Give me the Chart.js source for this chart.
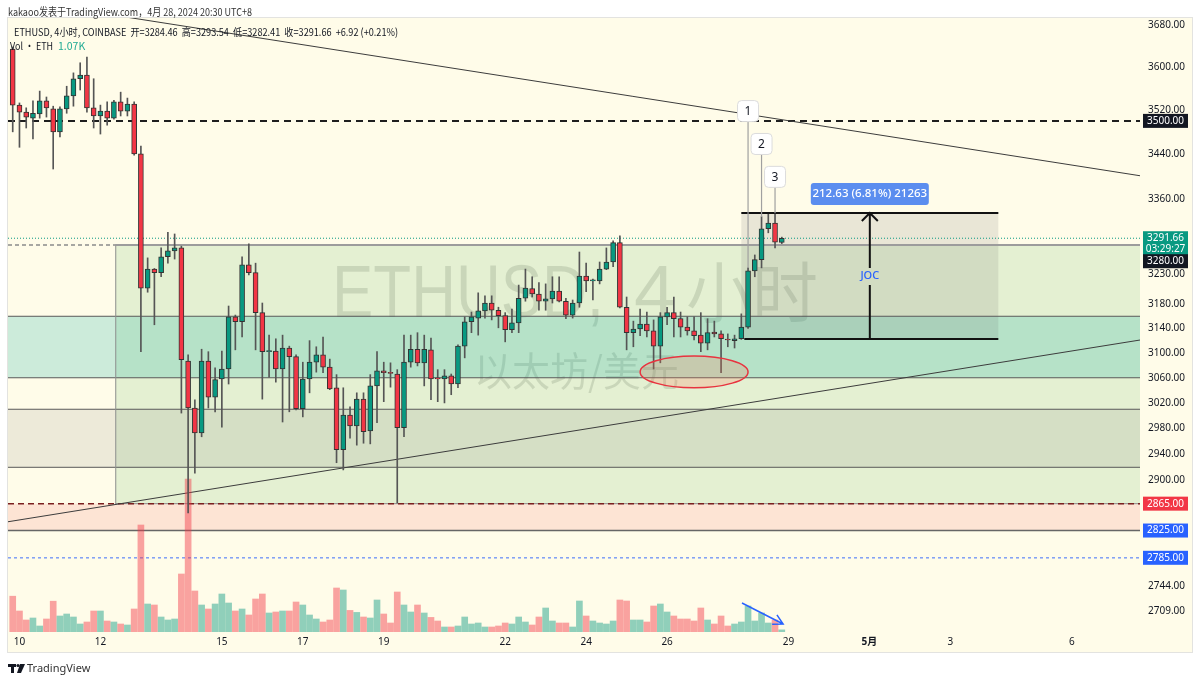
<!DOCTYPE html>
<html>
<head>
<meta charset="utf-8">
<title>ETHUSD 4小时</title>
<script src="https://cdn.jsdelivr.net/npm/chart.js@4.4.1/dist/chart.umd.min.js"></script>
<style>
  html, body { margin: 0; padding: 0; background: #ffffff; }
  #wrap { width: 1200px; height: 681px; }
</style>
</head>
<body>
<div id="wrap"><canvas id="chartEth" width="1200" height="681"></canvas></div>
<script>
// ETHUSD 4h candles (Coinbase), from 9 Apr 20:00 to 28 Apr 20:00 (UTC+8)
const openP = [3634,3529,3516,3505,3513,3537,3522,3480,3522,3546, 3578,3585,3524,3509,3518,3505,3535,3518,3531,3440,
  3207,3239,3233,3260,3270,3275,3087,3012,2973,3087, 3029,3058,3074,3159,3151,3246,3233,3166,3102,3103,
  3074,3108,3094,3011,3058,3085,3097,3077,3044,2947, 3001,2984,3026,2976,3047,3071,3068,3066,2981,3085,
  3106,3084,3105,3060,3058,3063,3050,3111,3151,3157, 3169,3182,3170,3161,3138,3149,3190,3206,3197,3185,
  3189,3202,3185,3162,3182,3227,3219,3219,3239,3251, 3284,3175,3133,3139,3147,3136,3111,3159,3166,3156,
  3142,3136,3129,3116,3134,3131,3122,3120,3123,3142, 3236,3255,3308,3318,3284.46];
const highP = [3638,3533,3524,3537,3555,3544,3527,3526,3564,3589, 3608,3619,3578,3529,3535,3538,3553,3542,3535,3454,
  3258,3240,3275,3302,3299,3278,3097,3025,3106,3102, 3076,3103,3177,3162,3260,3282,3249,3182,3129,3123,
  3129,3111,3097,3085,3120,3110,3126,3090,3065,3044, 3014,3036,3036,3065,3102,3085,3084,3073,3129,3129,
  3133,3129,3124,3073,3073,3066,3113,3159,3167,3199, 3194,3194,3175,3166,3172,3212,3239,3226,3216,3214,
  3226,3226,3190,3187,3268,3249,3222,3251,3275,3287, 3296,3192,3152,3172,3167,3154,3166,3175,3192,3167,
  3159,3159,3166,3156,3152,3136,3131,3129,3164,3241, 3263,3329,3335,3335,3293.54];
const lowP = [3480,3452,3487,3467,3505,3507,3413,3471,3514,3527, 3557,3516,3487,3476,3492,3503,3509,3509,3438,3102,
  3200,3146,3226,3249,3256,3004,2851,2911,2967,3012, 3006,2982,3050,3105,3126,3229,3105,3026,3061,3053,
  2990,3006,3009,2998,3036,3069,3068,3041,2927,2916, 2965,2954,2957,2956,2989,3022,3045,2866,2967,3077,
  3079,3047,3025,3022,3020,3033,3044,3092,3133,3129, 3157,3154,3141,3118,3133,3133,3185,3192,3170,3170,
  3182,3184,3156,3157,3175,3201,3187,3214,3238,3243, 3174,3105,3110,3128,3126,3074,3084,3146,3126,3126,
  3129,3121,3102,3105,3126,3068,3110,3108,3122,3140, 3226,3241,3301,3275,3282.41];
const closeP = [3529,3516,3507,3514,3537,3524,3480,3522,3546,3578, 3585,3524,3509,3518,3505,3535,3518,3531,3440,3207,
  3239,3233,3260,3270,3275,3089,3012,2973,3087,3029, 3057,3074,3159,3151,3246,3233,3166,3102,3103,3074,
  3108,3094,3011,3058,3085,3097,3077,3042,2947,3001, 2984,3026,2975,3047,3071,3068,3067,2981,3085,3106,
  3084,3106,3058,3058,3063,3050,3111,3151,3159,3169, 3182,3170,3161,3138,3149,3190,3207,3197,3185,3189,
  3202,3185,3162,3182,3227,3219,3221,3239,3251,3284, 3175,3133,3139,3147,3136,3111,3159,3166,3156,3142,
  3136,3128,3116,3133,3131,3123,3121,3123,3142,3236, 3255,3308,3318,3285,3291.66];
// volume, thousand ETH
const volK = [17.9,10.5,6,7,3,6.5,15.4,8,9,7.5, 4,5,10.5,10.5,5.5,5,4,3.5,11.5,53.5,
  14,13.5,7.5,6,6.5,29,76.5,20.5,13.5,11.5, 14,19,14.5,10.5,11.5,8.5,16.5,19,9.5,10,
  10.5,10.5,15,13.5,8.5,6.5,5,6,22,21, 10.8,9.8,7.5,7,16,9,4.5,20,13.5,10,
  13.5,9.5,7.3,5.5,2.5,2.5,3,7.5,4,4.5, 2.5,2.5,3,4.5,4,7.5,5,3.5,7.5,12,
  5.5,4.5,4.5,2.5,15.5,8,5.5,4.5,4,5.5, 16,15.5,6,6,5,13,14,10,8,6.5,
  6.5,5.5,12,6,4,8,3,4,5,13, 5.5,9.5,4.5,6,1.07];

// axes
const xTickIdx = [1, 13, 31, 43, 55, 73, 85, 97, 115, 127, 139, 157];
const xTickLabels = ['10', '12', '15', '17', '19', '22', '24', '26', '29', '5月', '3', '6'];
const yTickVals = [3680, 3600, 3520, 3440, 3360, 3230, 3180, 3140, 3100, 3060, 3020, 2980, 2940, 2900, 2744, 2709];

// drawings (candle index / price)
const zoneBox = [15.2, 3280, 2865];          // start index, top, bottom
const zoneLines = [3160, 3060, 3010, 2920];
const tealZone = [3160, 3060];
const grayZone = [3010, 2920];
const redZone = [2865, 2825];
const trendDown = [[20.4, 3688], [167.1, 3401]];
const trendUp = [[-0.7, 2838], [167.1, 3121]];
const jocBox = [108, 146.1, 3335.32, 3122.69];
const callouts = [[109, 3518, '1'], [111, 3458, '2'], [113, 3399, '3']];
const lowEllipse = [101, 8, 3095, 3044];     // center index, half width, top, bottom
const volArrow = [[108.1, 14.5], [114.2, 4]];

const UP = '#089981', DOWN = '#F23645';
const isUp = i => closeP[i] >= openP[i];
const paneBg = '#fffce9';
const FONT = '"Noto Sans", "Noto Sans CJK SC", sans-serif';
const CJK = '"Noto Sans CJK SC", "Noto Sans", sans-serif';

function roundRect(c, x, y, w, h, r) {
    c.beginPath();
    c.moveTo(x + r, y);
    c.arcTo(x + w, y, x + w, y + h, r);
    c.arcTo(x + w, y + h, x, y + h, r);
    c.arcTo(x, y + h, x, y, r);
    c.arcTo(x, y, x + w, y, r);
    c.closePath();
}

function hLine(c, a, y, color, width, dash) {
    c.strokeStyle = color;
    c.lineWidth = width;
    c.setLineDash(dash || []);
    c.beginPath();
    c.moveTo(a.left, y);
    c.lineTo(a.right, y);
    c.stroke();
    c.setLineDash([]);
}

const overlay = {
    id: 'overlay',
    beforeDraw(chart) {
        const c = chart.ctx;
        c.save();
        c.fillStyle = '#ffffff';
        c.fillRect(0, 0, chart.width, chart.height);
        c.fillStyle = paneBg;
        c.fillRect(8, 18, 1184, 634);
        c.strokeStyle = '#e3e3e0';
        c.lineWidth = 1;
        c.strokeRect(7.5, 17.5, 1185, 635);
        c.restore();
    },
    beforeDatasetsDraw(chart) {
        const { ctx: c, chartArea: a, scales } = chart;
        const X = v => scales.x.getPixelForValue(v);
        const Y = v => scales.y.getPixelForValue(v);
        const w = a.right - a.left;
        c.save();
        c.beginPath();
        c.rect(a.left, a.top, w, a.bottom - a.top);
        c.clip();

        // watermark
        c.fillStyle = 'rgba(0,0,0,0.12)';
        c.textBaseline = 'alphabetic';
        c.textAlign = 'left';
        c.font = '75px "Liberation Sans", ' + FONT;
        c.fillText('ETHUSD,', 332, 317, 272);
        c.fillText('4', 634, 317);
        c.font = '66px ' + CJK;
        c.fillText('小时', 686, 317, 138);
        c.font = '40px ' + CJK;
        c.fillText('以太坊/美元', 474, 386, 205);

        // zones
        const bx = X(zoneBox[0]);
        c.fillStyle = 'rgba(76,175,80,0.15)';
        c.fillRect(bx, Y(zoneBox[1]), a.right - bx, Y(zoneBox[2]) - Y(zoneBox[1]));
        c.fillStyle = 'rgba(0,170,160,0.2)';
        c.fillRect(a.left, Y(tealZone[0]), w, Y(tealZone[1]) - Y(tealZone[0]));
        c.fillStyle = 'rgba(110,110,110,0.12)';
        c.fillRect(a.left, Y(grayZone[0]), w, Y(grayZone[1]) - Y(grayZone[0]));
        c.fillStyle = 'rgba(242,54,69,0.12)';
        c.fillRect(a.left, Y(redZone[0]), w, Y(redZone[1]) - Y(redZone[0]));

        // measure box fill
        const jx1 = X(jocBox[0]), jx2 = X(jocBox[1]);
        c.fillStyle = 'rgba(110,110,110,0.15)';
        c.fillRect(jx1, Y(jocBox[2]), jx2 - jx1, Y(jocBox[3]) - Y(jocBox[2]));

        // levels
        zoneLines.forEach(p => hLine(c, a, Y(p), '#5a5a5a', 1));
        hLine(c, a, Y(redZone[1]), '#666', 1.5);
        c.strokeStyle = '#8f8f8f';
        c.lineWidth = 1;
        c.beginPath();
        c.moveTo(bx + 0.5, Y(zoneBox[1]));
        c.lineTo(bx + 0.5, Y(zoneBox[2]));
        c.moveTo(bx, Y(zoneBox[2]));
        c.lineTo(a.right, Y(zoneBox[2]));
        c.stroke();
        hLine(c, a, Y(redZone[0]), '#7a1f1f', 1.5, [6, 4]);
        hLine(c, a, Y(2785), '#7f9ef5', 1.5, [3, 3]);
        hLine(c, a, Y(zoneBox[1]), '#8a8a8a', 1.5, [4, 3]);
        c.strokeStyle = '#9c9c9c';
        c.lineWidth = 2;
        c.beginPath();
        c.moveTo(bx, Y(zoneBox[1]));
        c.lineTo(a.right, Y(zoneBox[1]));
        c.stroke();
        hLine(c, a, Y(3500), '#1e1e1e', 2, [7, 5]);
        hLine(c, a, Y(closeP[closeP.length - 1]), UP, 1, [1, 2]);

        // trend lines
        c.strokeStyle = '#3c3c3c';
        c.lineWidth = 1;
        [trendDown, trendUp].forEach(t => {
            const x1 = X(t[0][0]), y1 = Y(t[0][1]), x2 = X(t[1][0]), y2 = Y(t[1][1]);
            const k = (y2 - y1) / (x2 - x1);
            c.beginPath();
            c.moveTo(a.left, y1 + (a.left - x1) * k);
            c.lineTo(a.right, y1 + (a.right - x1) * k);
            c.stroke();
        });
        c.restore();
    },
    afterDatasetsDraw(chart) {
        const { ctx: c, chartArea: a, scales } = chart;
        const X = v => scales.x.getPixelForValue(v);
        const Y = v => scales.y.getPixelForValue(v);
        const YV = v => scales.yv.getPixelForValue(v);
        c.save();
        c.beginPath();
        c.rect(a.left, a.top, a.right - a.left, a.bottom - a.top);
        c.clip();

        // red ellipse around the lows
        const ex = X(lowEllipse[0]), erx = X(lowEllipse[0] + lowEllipse[1]) - ex;
        const et = Y(lowEllipse[2]), eb = Y(lowEllipse[3]);
        c.beginPath();
        c.ellipse(ex, (et + eb) / 2, erx, (eb - et) / 2, 0, 0, Math.PI * 2);
        c.fillStyle = 'rgba(255,120,80,0.22)';
        c.fill();
        c.strokeStyle = '#e8333f';
        c.lineWidth = 1.5;
        c.stroke();

        // JOC measure
        const jx1 = X(jocBox[0]), jx2 = X(jocBox[1]), jt = Y(jocBox[2]), jb = Y(jocBox[3]);
        const jm = (jx1 + jx2) / 2, jc = (jt + jb) / 2;
        c.strokeStyle = '#111';
        c.lineWidth = 2;
        c.beginPath();
        c.moveTo(jx1, jt); c.lineTo(jx2, jt);
        c.moveTo(jx1 + 3, jb); c.lineTo(jx2, jb);
        c.moveTo(jm, jb); c.lineTo(jm, jc + 9);
        c.moveTo(jm, jc - 8); c.lineTo(jm, jt);
        c.moveTo(jm - 8, jt + 8); c.lineTo(jm, jt); c.lineTo(jm + 8, jt + 8);
        c.stroke();
        c.fillStyle = '#2962FF';
        c.font = '500 11px ' + FONT;
        c.textAlign = 'center';
        c.textBaseline = 'middle';
        c.fillText('JOC', jm, jc);
        roundRect(c, jm - 59, jt - 30, 118, 22, 3);
        c.fillStyle = '#5b8def';
        c.fill();
        c.fillStyle = '#ffffff';
        c.font = '500 11.5px ' + FONT;
        c.fillText('212.63 (6.81%) 21263', jm, jt - 19);

        // numbered callouts
        callouts.forEach(([i, p, t]) => {
            const cx = X(i), cy = Y(p);
            c.strokeStyle = '#a0a0a0';
            c.lineWidth = 1.2;
            c.beginPath();
            c.moveTo(cx, cy + 10);
            c.lineTo(cx, Y(highP[i]));
            c.stroke();
            roundRect(c, cx - 10.5, cy - 10.5, 21, 21, 4);
            c.fillStyle = '#ffffff';
            c.fill();
            c.strokeStyle = '#dcdcdc';
            c.lineWidth = 1;
            c.stroke();
            c.fillStyle = '#131722';
            c.font = '12px ' + FONT;
            c.fillText(t, cx, cy + 0.5);
        });

        // volume arrow
        const ax1 = X(volArrow[0][0]), ay1 = YV(volArrow[0][1]);
        const ax2 = X(volArrow[1][0]), ay2 = YV(volArrow[1][1]);
        const ang = Math.atan2(ay2 - ay1, ax2 - ax1);
        c.strokeStyle = '#2962FF';
        c.lineWidth = 1.5;
        c.beginPath();
        c.moveTo(ax1, ay1); c.lineTo(ax2, ay2);
        c.moveTo(ax2 - 11 * Math.cos(ang - 0.5), ay2 - 11 * Math.sin(ang - 0.5));
        c.lineTo(ax2, ay2);
        c.lineTo(ax2 - 11 * Math.cos(ang + 0.5), ay2 - 11 * Math.sin(ang + 0.5));
        c.stroke();
        c.restore();
    },
    afterDraw(chart) {
        const { ctx: c, scales } = chart;
        const Y = v => scales.y.getPixelForValue(v);
        c.save();
        c.textBaseline = 'middle';
        c.textAlign = 'left';

        // header
        c.fillStyle = '#333';
        c.font = '11px ' + CJK;
        c.fillText('kakaoo发表于TradingView.com，4月 28, 2024 20:30 UTC+8', 8, 12, 244);
        c.fillStyle = '#131722';
        c.font = '10.5px ' + CJK;
        c.fillText('ETHUSD, 4小时, COINBASE  开=3284.46  高=3293.54  低=3282.41  收=3291.66  +6.92 (+0.21%)', 14, 32, 384);
        c.fillText('Vol · ETH', 10, 46, 43);
        c.fillStyle = '#22ab94';
        c.fillText('1.07K', 58, 46);

        // price badges on the axis
        const badge = (text, y, bg, h) => {
            c.fillStyle = bg;
            c.fillRect(1143, y - 7, 45, h || 14);
            c.fillStyle = '#ffffff';
            c.font = '10px ' + FONT;
            c.textAlign = 'center';
            c.fillText(text, 1165.5, y);
        };
        const last = closeP[closeP.length - 1];
        const yLast = Y(last);
        badge(last.toFixed(2), yLast, UP, 25);
        c.fillStyle = '#ffffff';
        c.fillText('03:29:27', 1165.5, yLast + 11);
        badge('3500.00', Y(3500), '#131722');
        badge('3280.00', Math.max(Y(3280), yLast + 23), '#131722');
        badge('2865.00', Y(2865), DOWN);
        badge('2825.00', Y(2825), '#2962FF');
        badge('2785.00', Y(2785), '#2962FF');

        // footer logo
        c.fillStyle = '#131722';
        c.fillRect(8, 664, 8, 3);
        c.fillRect(11, 664, 3, 9);
        c.beginPath();
        c.arc(18, 665.5, 1.6, 0, Math.PI * 2);
        c.fill();
        c.beginPath();
        c.moveTo(20, 664); c.lineTo(25, 664); c.lineTo(21, 673); c.lineTo(17, 673);
        c.closePath();
        c.fill();
        c.textAlign = 'left';
        c.font = '11px ' + FONT;
        c.fillStyle = '#333';
        c.fillText('TradingView', 27, 668.5);
        c.restore();
    }
};

const idx = openP.map((_, i) => i);
new Chart(document.getElementById('chartEth').getContext('2d'), {
    type: 'bar',
    data: {
        datasets: [{
            label: 'Body',
            data: idx.map(i => ({ x: i, y: [openP[i], closeP[i]] })),
            yAxisID: 'y',
            backgroundColor: idx.map(i => isUp(i) ? UP : DOWN),
            borderColor: '#333333',
            borderWidth: 1,
            borderSkipped: false,
            barThickness: 5,
            minBarLength: 1,
            grouped: false,
            order: 1
        }, {
            label: 'Wick',
            data: idx.map(i => ({ x: i, y: [lowP[i], highP[i]] })),
            yAxisID: 'y',
            backgroundColor: '#555555',
            barThickness: 1,
            grouped: false,
            order: 2
        }, {
            label: 'Vol',
            data: idx.map(i => ({ x: i, y: volK[i] })),
            yAxisID: 'yv',
            backgroundColor: idx.map(i => isUp(i) ? 'rgba(8,153,129,0.45)' : 'rgba(242,54,69,0.45)'),
            barThickness: 6,
            grouped: false,
            order: 3
        }]
    },
    options: {
        responsive: false,
        animation: false,
        devicePixelRatio: 1,
        layout: { padding: { left: 8, top: 18, right: 8, bottom: 29 } },
        plugins: { legend: { display: false }, tooltip: { enabled: false } },
        scales: {
            x: {
                type: 'linear',
                min: -0.7,
                max: 167.1,
                offset: false,
                grid: { display: false, drawTicks: false },
                border: { display: false },
                afterBuildTicks: s => { s.ticks = xTickIdx.map(v => ({ value: v })); },
                afterFit: s => { s.height = 20; },
                ticks: {
                    autoSkip: false,
                    maxRotation: 0,
                    padding: 4,
                    color: '#131722',
                    font: ctx => ({ family: FONT, size: 10, weight: ctx.tick && ctx.tick.value === 127 ? 'bold' : 'normal' }),
                    callback: v => xTickLabels[xTickIdx.indexOf(v)]
                }
            },
            y: {
                type: 'logarithmic',
                position: 'right',
                min: 2679,
                max: 3693.5,
                grid: { display: false, drawTicks: false },
                border: { display: false },
                afterBuildTicks: s => { s.ticks = yTickVals.map(v => ({ value: v })); },
                afterFit: s => { s.width = 52; },
                ticks: {
                    padding: 8,
                    color: '#131722',
                    font: { family: FONT, size: 10 },
                    callback: v => Number(v).toFixed(2)
                }
            },
            yv: {
                type: 'linear',
                display: false,
                min: 0,
                max: 307
            }
        }
    },
    plugins: [overlay]
});
</script>
</body>
</html>
